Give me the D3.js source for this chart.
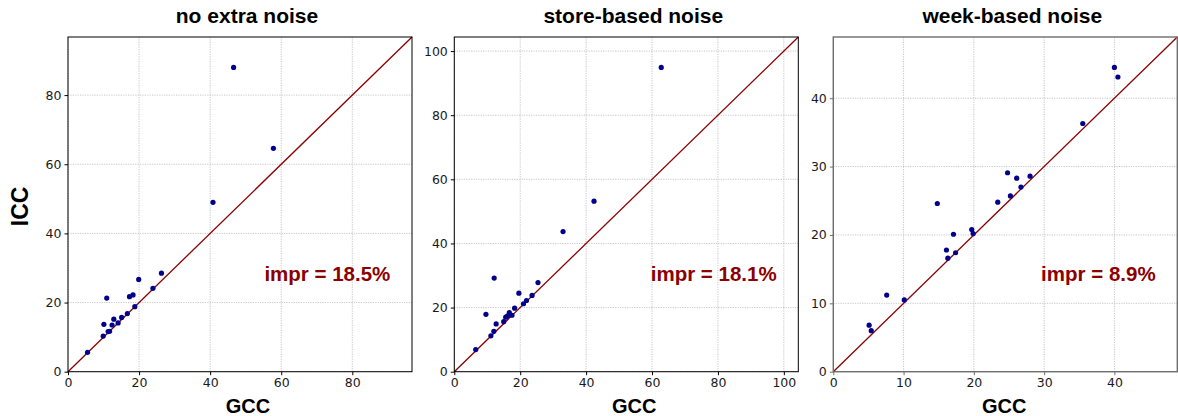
<!DOCTYPE html>
<html>
<head>
<meta charset="utf-8">
<script src="https://cdn.jsdelivr.net/npm/d3@7/dist/d3.min.js"></script>
<style>
  html, body { margin: 0; padding: 0; background: #fff; }
  svg { display: block; font-family: "Liberation Sans", Arial, sans-serif; }
</style>
</head>
<body>
<svg id="chart" width="1178" height="416"></svg>
<script>
// ---------- data ----------
const titles = ["no extra noise", "store-based noise", "week-based noise"];
const imprLabels = ["impr = 18.5%", "impr = 18.1%", "impr = 8.9%"];
const tickSteps = [20, 20, 10];

const gccNoExtra = [46.6, 57.8, 40.8, 26.3, 19.9, 23.9, 10.9, 17.3, 18.3, 18.8, 16.7, 15.1, 12.9, 14.1, 12.4, 10.1, 11.7, 11.3, 9.9, 5.5];
const iccNoExtra = [88.0, 64.6, 49.0, 28.5, 26.7, 24.1, 21.3, 21.7, 22.2, 18.8, 16.8, 15.7, 15.2, 14.1, 13.5, 13.7, 11.7, 11.6, 10.3, 5.6];

const gccStore = [62.8, 42.4, 33.0, 12.1, 25.4, 19.6, 23.6, 21.9, 21.0, 18.3, 16.7, 15.6, 17.5, 16.2, 15.0, 9.6, 12.7, 12.0, 11.1, 6.5];
const iccStore = [94.9, 53.2, 43.7, 29.2, 27.8, 24.5, 23.8, 22.2, 21.2, 19.8, 18.4, 17.0, 17.6, 17.4, 15.6, 17.9, 14.9, 12.6, 11.2, 6.9];

const gccWeek = [40.0, 40.5, 35.5, 24.8, 26.1, 28.0, 26.7, 25.2, 23.4, 14.8, 19.7, 19.9, 17.1, 16.1, 16.3, 17.4, 7.6, 10.1, 5.1, 5.4];
const iccWeek = [44.5, 43.1, 36.3, 29.1, 28.3, 28.6, 27.0, 25.7, 24.8, 24.6, 20.8, 20.2, 20.1, 17.8, 16.6, 17.4, 11.2, 10.5, 6.8, 6.0];

const panels = [
  { gcc: gccNoExtra, icc: iccNoExtra },
  { gcc: gccStore, icc: iccStore },
  { gcc: gccWeek, icc: iccWeek }
];

// ---------- layout ----------
const plotLefts = [68, 454.3, 833.3];
const xLabelShift = [8, 8, -1];
const plotW = 344;
const plotTop = 37, plotBottom = 371.7;

const svg = d3.select("#chart");

panels.forEach((p, i) => {
  const x0 = plotLefts[i];
  const x1 = x0 + plotW;
  const maxV = d3.max(p.icc.concat(p.gcc)) * 1.1;
  const x = d3.scaleLinear().domain([0, maxV]).range([x0, x1]);
  const y = d3.scaleLinear().domain([0, maxV]).range([plotBottom, plotTop]);
  const ticks = d3.range(0, maxV, tickSteps[i]);
  const spineColor = i === 2 ? "#6e6e6e" : "#000";
  const g = svg.append("g");

  // grid
  g.append("g").selectAll("line.vx").data(ticks).join("line")
    .attr("x1", d => x(d)).attr("x2", d => x(d))
    .attr("y1", plotTop).attr("y2", plotBottom)
    .attr("stroke", "#b8b8b8").attr("stroke-width", 0.8)
    .attr("stroke-dasharray", "1.2,1.2");
  g.append("g").selectAll("line.hy").data(ticks).join("line")
    .attr("y1", d => y(d)).attr("y2", d => y(d))
    .attr("x1", x0).attr("x2", x1)
    .attr("stroke", "#b8b8b8").attr("stroke-width", 0.8)
    .attr("stroke-dasharray", "1.2,1.2");

  // axes
  const xAxis = d3.axisBottom(x).tickValues(ticks).tickSize(3.5).tickPadding(3).tickFormat(d3.format("d"));
  const yAxis = d3.axisLeft(y).tickValues(ticks).tickSize(3.5).tickPadding(3).tickFormat(d3.format("d"));
  const gx = g.append("g").attr("transform", `translate(0,${plotBottom})`).call(xAxis);
  const gy = g.append("g").attr("transform", `translate(${x0},0)`).call(yAxis);
  [gx, gy].forEach(a => {
    a.select(".domain").remove();
    a.selectAll(".tick line").attr("stroke", spineColor).attr("stroke-width", 1);
    a.selectAll(".tick text").attr("fill", "#1a1a1a")
      .style("font-family", "'DejaVu Sans', sans-serif").style("font-size", "12.5px");
  });

  // diagonal y = x
  g.append("line")
    .attr("x1", x(0)).attr("y1", y(0))
    .attr("x2", x(maxV)).attr("y2", y(maxV))
    .attr("stroke", "#8b0000").attr("stroke-width", 1.3);

  // points
  g.append("g").selectAll("circle").data(p.gcc.map((v, k) => [v, p.icc[k]])).join("circle")
    .attr("cx", d => x(d[0])).attr("cy", d => y(d[1]))
    .attr("r", 2.6).attr("fill", "#00008b");

  // frame
  g.append("rect")
    .attr("x", x0).attr("y", plotTop)
    .attr("width", plotW).attr("height", plotBottom - plotTop)
    .attr("fill", "none").attr("stroke", spineColor).attr("stroke-width", i === 2 ? 1.4 : 1);

  // annotation
  g.append("text")
    .attr("x", x0 + plotW * 0.937).attr("y", 280.5)
    .attr("text-anchor", "end")
    .attr("fill", "#8b0000").style("font-weight", "bold").style("font-size", "20.5px")
    .text(imprLabels[i]);

  // title
  g.append("text")
    .attr("x", x0 + plotW / 2 + 7).attr("y", 22.7)
    .attr("text-anchor", "middle")
    .style("font-weight", "bold").style("font-size", "21px")
    .text(titles[i]);

  // x label
  g.append("text")
    .attr("x", x0 + plotW / 2 + xLabelShift[i]).attr("y", 413)
    .attr("text-anchor", "middle")
    .style("font-weight", "bold").style("font-size", "20px")
    .text("GCC");
});

// y label
svg.append("text")
  .attr("transform", `translate(28,${(plotTop + plotBottom) / 2 + 2}) rotate(-90)`)
  .attr("text-anchor", "middle")
  .style("font-weight", "bold").style("font-size", "23px")
  .text("ICC");
</script>
</body>
</html>
